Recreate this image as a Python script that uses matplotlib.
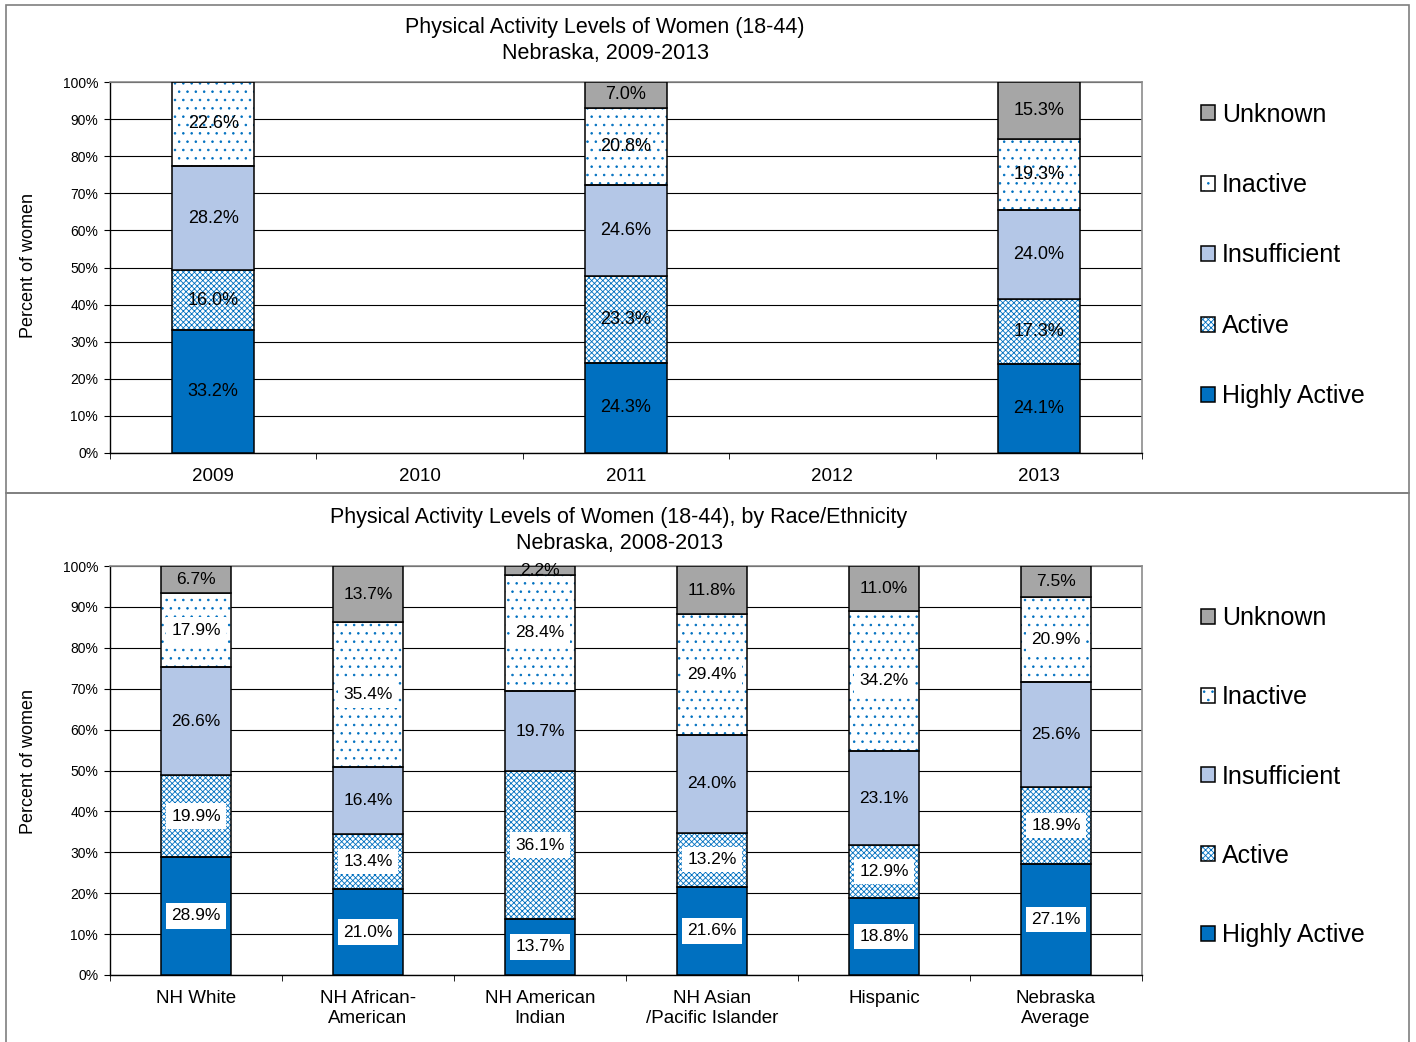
import numpy as np
import matplotlib.pyplot as plt
from matplotlib.patches import Patch, Rectangle
from matplotlib.legend_handler import HandlerTuple

plt.rcParams['font.family'] = ['Liberation Sans', 'DejaVu Sans']
plt.rcParams['hatch.linewidth'] = 0.6

# Data
levels = ["Highly Active", "Active", "Insufficient", "Inactive", "Unknown"]

years = ["2009", "2010", "2011", "2012", "2013"]
yr_highly = [33.2, 0, 24.3, 0, 24.1]
yr_active = [16.0, 0, 23.3, 0, 17.3]
yr_insuff = [28.2, 0, 24.6, 0, 24.0]
yr_inactive = [22.6, 0, 20.8, 0, 19.3]
yr_unknown = [0, 0, 7.0, 0, 15.3]

groups = ["NH White", "NH African-\nAmerican", "NH American\nIndian",
          "NH Asian\n/Pacific Islander", "Hispanic", "Nebraska\nAverage"]
grp_highly = [28.9, 21.0, 13.7, 21.6, 18.8, 27.1]
grp_active = [19.9, 13.4, 36.1, 13.2, 12.9, 18.9]
grp_insuff = [26.6, 16.4, 19.7, 24.0, 23.1, 25.6]
grp_inactive = [17.9, 35.4, 28.4, 29.4, 34.2, 20.9]
grp_unknown = [6.7, 13.7, 2.2, 11.8, 11.0, 7.5]

BLUE = "#0070C0"
styles = {
    "Highly Active": (BLUE, None),
    "Active": ("white", "xxxxxx"),
    "Insufficient": ("#B4C7E7", None),
    "Inactive": ("white", ".."),
    "Unknown": ("#A6A6A6", None),
}

W, H = 1416, 1042
fig = plt.figure(figsize=(W / 100, H / 100), dpi=100)


def fx(px):
    return px / W


def fy(py):
    return 1 - py / H


# panel borders
for (x0, y0, x1, y1) in [(6, 5, 1409, 493), (6, 493, 1409, 1046)]:
    fig.patches.append(Rectangle((fx(x0), fy(y1)), fx(x1) - fx(x0), fy(y0) - fy(y1),
                                 transform=fig.transFigure, fill=False,
                                 edgecolor="#7f7f7f", lw=1.2))


def draw(ax, cats, series, width, fs, boxed):
    x = np.arange(len(cats))
    bottom = np.zeros(len(cats))
    for name, vals in zip(levels, series):
        vals = np.array(vals) / 100
        face, hatch = styles[name]
        keep = vals > 0
        xs, vs, bs = x[keep], vals[keep], bottom[keep]
        if hatch:
            ax.bar(xs, vs, width, bottom=bs, color="white", edgecolor=BLUE,
                   hatch=hatch, lw=0, zorder=2)
            ax.bar(xs, vs, width, bottom=bs, facecolor="none",
                   edgecolor="black", lw=1.1, zorder=3)
        else:
            ax.bar(xs, vs, width, bottom=bs, facecolor=face,
                   edgecolor="black", lw=1.1, zorder=3)
        for xi, v, b in zip(xs, vs, bs):
            kw = {}
            if boxed and name in ("Highly Active", "Active", "Inactive"):
                kw["bbox"] = dict(boxstyle="square,pad=0.3", fc="white", ec="none")
            ax.text(xi, b + v / 2, f"{v * 100:.1f}%", ha="center", va="center",
                    fontsize=fs, color="black", zorder=5, **kw)
        bottom += vals

    ax.set_xlim(-0.5, len(cats) - 0.5)
    ax.set_ylim(0, 1)
    ticks = np.arange(0, 1.01, 0.1)
    ax.set_yticks(ticks)
    ax.set_yticklabels([f"{int(round(t * 100))}%" for t in ticks], fontsize=10)
    ax.set_xticks(x)
    ax.set_xticklabels(cats, fontsize=13.5, linespacing=1.2)
    ax.set_xticks(np.arange(-0.5, len(cats)), minor=True)
    ax.tick_params(axis="x", which="major", length=0, pad=11)
    ax.tick_params(axis="x", which="minor", length=4.5, direction="out", color="black")
    ax.tick_params(axis="y", length=4.5, direction="out", pad=4)
    ax.yaxis.grid(True, color="black", lw=0.8, zorder=0)
    ax.set_axisbelow(True)
    for s in ("top", "right"):
        ax.spines[s].set_color("#8c8c8c")
        ax.spines[s].set_linewidth(1.2)
    for s in ("left", "bottom"):
        ax.spines[s].set_color("black")
        ax.spines[s].set_linewidth(1.0)


def legend(ax, cy, spacing):
    handles = []
    for name in levels[::-1]:
        face, hatch = styles[name]
        if hatch:
            h = (Patch(facecolor="white", edgecolor=BLUE, hatch=hatch, lw=0),
                 Patch(facecolor="none", edgecolor="black", lw=1.1))
        else:
            h = Patch(facecolor=face, edgecolor="black", lw=1.1)
        handles.append(h)
    ax.legend(handles, levels[::-1], handler_map={tuple: HandlerTuple(ndivide=1, pad=0)},
              loc="center left", bbox_to_anchor=(fx(1201), fy(cy)),
              bbox_transform=fig.transFigure, frameon=False, fontsize=18,
              handlelength=0.55, handleheight=0.55, handletextpad=0.3,
              labelspacing=spacing, borderpad=0, borderaxespad=0)


# top chart
ax1 = fig.add_axes([fx(110), fy(453), fx(1142) - fx(110), fy(82) - fy(453)])
draw(ax1, years, [yr_highly, yr_active, yr_insuff, yr_inactive, yr_unknown],
     0.40, 13, False)
legend(ax1, 255.5, 1.86)
fig.text(fx(605), fy(28), "Physical Activity Levels of Women (18-44)",
         ha="center", va="center", fontsize=15.5)
fig.text(fx(605), fy(53), "Nebraska, 2009-2013", ha="center", va="center", fontsize=15.5)
fig.text(fx(29), fy(265), "Percent of women", rotation=90, ha="center", va="center",
         fontsize=13)

# bottom chart
ax2 = fig.add_axes([fx(110), fy(975), fx(1142) - fx(110), fy(566) - fy(975)])
draw(ax2, groups, [grp_highly, grp_active, grp_insuff, grp_inactive, grp_unknown],
     0.41, 12.5, True)
legend(ax2, 776.5, 2.21)
fig.text(fx(619), fy(518), "Physical Activity Levels of Women (18-44), by Race/Ethnicity",
         ha="center", va="center", fontsize=15.5)
fig.text(fx(619), fy(543), "Nebraska, 2008-2013", ha="center", va="center", fontsize=15.5)
fig.text(fx(29), fy(762), "Percent of women", rotation=90, ha="center", va="center",
         fontsize=13)

fig.savefig("out.png", dpi=100, facecolor="white")
